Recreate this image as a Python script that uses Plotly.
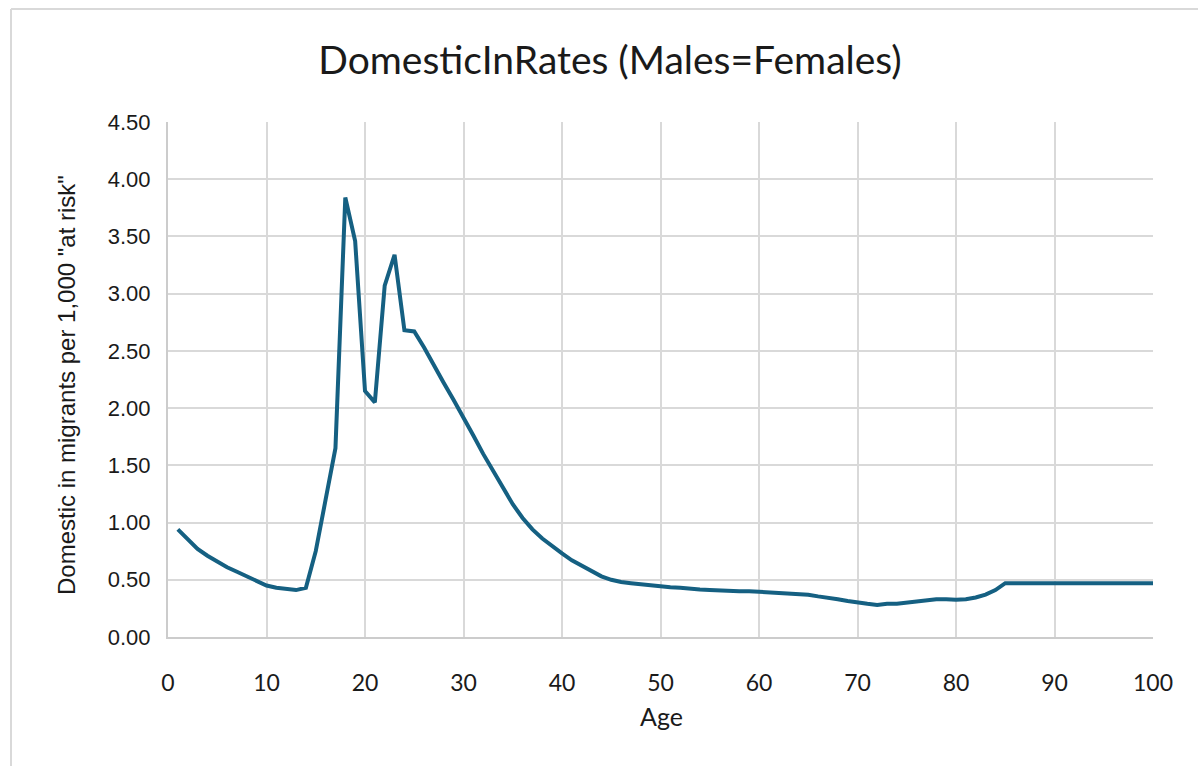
import plotly.graph_objects as go

ages = list(range(1, 101))
rates = [
    0.94, 0.85, 0.77, 0.71, 0.66, 0.61, 0.57, 0.53, 0.49, 0.45,
    0.43, 0.42, 0.41, 0.43, 0.75, 1.20, 1.65, 3.84, 3.46, 2.15,
    2.05, 3.07, 3.34, 2.68, 2.67, 2.53, 2.37, 2.22, 2.07, 1.92,
    1.76, 1.60, 1.45, 1.30, 1.16, 1.04, 0.94, 0.86, 0.79, 0.73,
    0.67, 0.62, 0.58, 0.53, 0.50, 0.48, 0.47, 0.46, 0.45, 0.44,
    0.435, 0.43, 0.42, 0.415, 0.41, 0.405, 0.40, 0.40, 0.40, 0.395,
    0.39, 0.39, 0.385, 0.38, 0.37, 0.355, 0.345, 0.33, 0.315, 0.30,
    0.29, 0.28, 0.29, 0.29, 0.30, 0.315, 0.325, 0.33, 0.33, 0.325,
    0.33, 0.345, 0.37, 0.41, 0.47, 0.47, 0.47, 0.47, 0.47, 0.47,
    0.47, 0.47, 0.47, 0.47, 0.47, 0.47, 0.47, 0.47, 0.47, 0.47,
]
x_ticks = list(range(0, 101, 10))
y_ticks = [0, 0.5, 1.0, 1.5, 2.0, 2.5, 3.0, 3.5, 4.0, 4.5]
title_text = "DomesticInRates (Males=Females)"
x_title = "Age"
y_title = 'Domestic in migrants per 1,000 "at risk"'

W, H = 1198, 766
L, R, T, B = 168, 45, 122, 129
pw, ph = W - L - R, H - T - B

fig = go.Figure()
fig.add_trace(go.Scatter(
    x=ages, y=rates, mode="lines",
    line=dict(color="#156082", width=4),
    showlegend=False, hoverinfo="x+y",
))

grid = "#d9d9d9"
fig.update_layout(
    width=W, height=H,
    margin=dict(l=L, r=R, t=T, b=B, pad=0),
    paper_bgcolor="white", plot_bgcolor="white",
    title=dict(text=title_text, x=610 / W, y=1 - 60 / H,
               xanchor="center", yanchor="middle", xref="container", yref="container",
               font=dict(family="Lato, Open Sans, sans-serif", size=39, color="#1a1a1a")),
    xaxis=dict(range=[0, 100], tickvals=x_ticks, ticktext=[str(v) for v in x_ticks],
               showgrid=True, gridcolor=grid, gridwidth=1.5,
               showline=True, linecolor="#cccccc", linewidth=2, mirror=False,
               zeroline=False, ticks="", ticklabelstandoff=24,
               tickfont=dict(family="Lato, Open Sans, sans-serif", size=23, color="#1a1a1a")),
    yaxis=dict(range=[0, 4.5], tickvals=y_ticks, ticktext=[f"{v:.2f}" for v in y_ticks],
               showgrid=True, gridcolor=grid, gridwidth=1.5,
               showline=True, linecolor="#cccccc", linewidth=2,
               zeroline=False, ticks="", ticklabelstandoff=11,
               tickfont=dict(family="Liberation Sans, Arial, sans-serif", size=22, color="#1a1a1a")),
    annotations=[
        dict(text=x_title, x=(661 - L) / pw, y=(H - B - 716) / ph, xref="paper", yref="paper",
             xanchor="center", yanchor="middle", showarrow=False,
             font=dict(family="Lato, Open Sans, sans-serif", size=25, color="#1a1a1a")),
        dict(text=y_title, x=(66 - L) / pw, y=(H - B - 385) / ph, xref="paper", yref="paper",
             xanchor="center", yanchor="middle", showarrow=False, textangle=-90,
             font=dict(family="Liberation Sans, Arial, sans-serif", size=24, color="#1a1a1a")),
    ],
    shapes=[
        dict(type="line", xref="paper", yref="paper",
             x0=(11 - L) / pw, x1=(11 - L) / pw, y0=(H - B - 9) / ph, y1=(H - B - 800) / ph,
             line=dict(color="#d9d9d9", width=2)),
        dict(type="line", xref="paper", yref="paper",
             x0=(11 - L) / pw, x1=(1300 - L) / pw, y0=(H - B - 9) / ph, y1=(H - B - 9) / ph,
             line=dict(color="#d9d9d9", width=2)),
    ],
)

fig.write_html("out.html")
